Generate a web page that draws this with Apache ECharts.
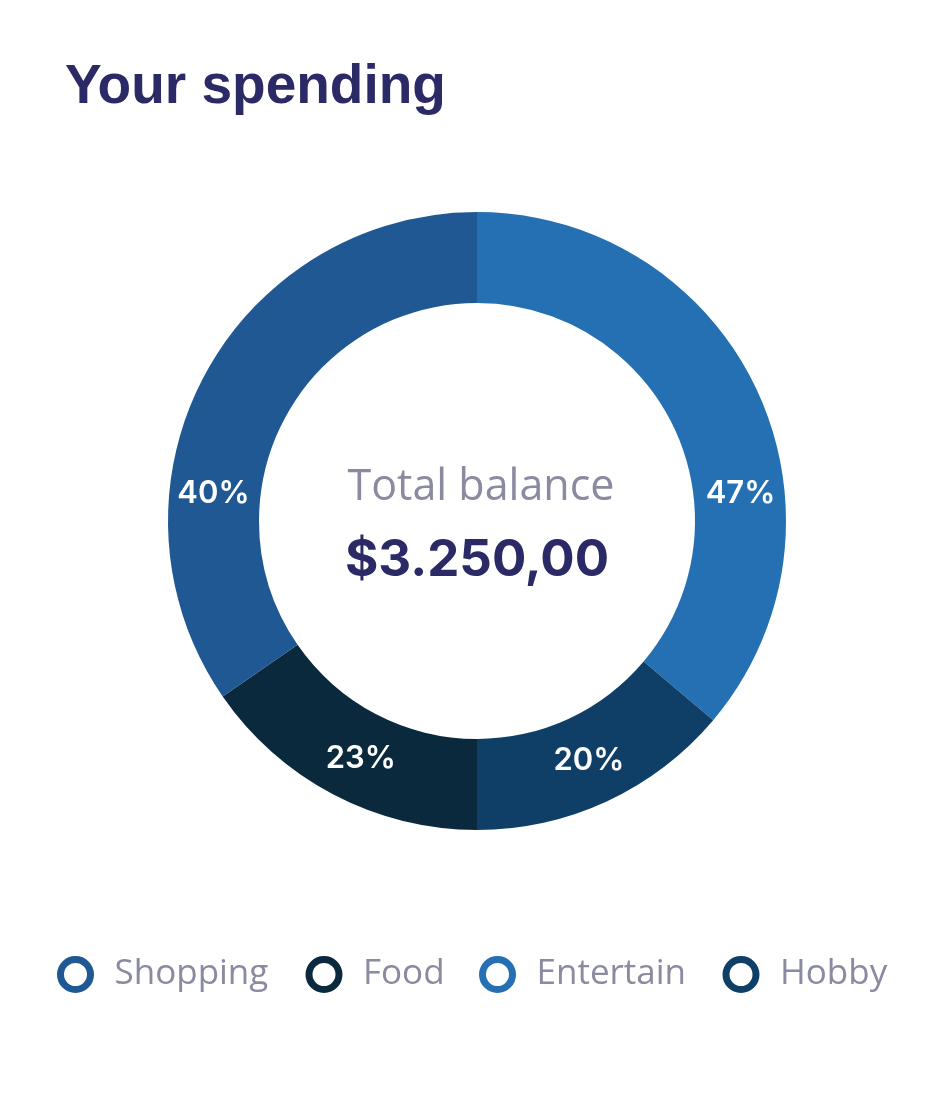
<!DOCTYPE html>
<html>
<head>
<meta charset="utf-8">
<title>Your spending</title>
<script src="https://cdn.jsdelivr.net/npm/echarts@6/dist/echarts.min.js"></script>
<style>
  html, body { margin: 0; padding: 0; background: #fff; }
  #main { width: 948px; height: 1116px; }
</style>
</head>
<body>
<div id="main"></div>
<script>
	// ring slices, clockwise from 12 o'clock
	var categories = ['Entertainment', 'Hobby', 'Food', 'Shopping'];
	var values = [47, 18, 20, 45];                  // slice sizes as they sit on the ring
	var shareLabels = ['47%', '20%', '23%', '40%']; // text printed on each slice
	var labelAngles = [84, 155, 206, 276];          // where each label sits, deg clockwise from top
	var legendOrder = ['Shopping', 'Food', 'Entertainment', 'Hobby'];

	var totalLabel = 'Total balance';
	var totalValue = '$3.250,00';

	var colors = {
		Entertainment: '#2470b3',
		Hobby: '#0f3e67',
		Food: '#0b293c',
		Shopping: '#1f5892'
	};
	var legendBox = [161, 86, 156, 111]; // fixed text box per legend entry
	var legendMaxChars = 9;              // long names get cut off

	var cx = 477, cy = 521, r0 = 218, r1 = 309;
	var navy = '#2b2a67', grey = '#8a8aa0';

	var chart = echarts.init(document.getElementById('main'));

	var option = {
		animation: false,
		backgroundColor: '#fff',
		title: {
			text: 'Your spending',
			left: 65,
			top: 60,
			padding: 0,
			textStyle: {
				fontFamily: 'Liberation Sans',
				fontWeight: 'bold',
				fontSize: 55,
				color: navy
			}
		},
		legend: {
			left: 57,
			top: 952,
			padding: 0,
			icon: 'circle',
			itemWidth: 30,
			itemHeight: 30,
			itemGap: 30,
			selectedMode: false,
			formatter: function (name) {
				return name.length > legendMaxChars ? name.slice(0, legendMaxChars) : name;
			},
			textStyle: {
				fontFamily: 'Open Sans',
				fontSize: 35,
				color: grey,
				backgroundColor: 'rgba(255,255,255,0)',
				padding: [10, 0, 0, 19]
			},
			data: legendOrder.map(function (name, i) {
				return {
					name: name,
					itemStyle: { color: '#fff', borderColor: colors[name], borderWidth: 7 },
					textStyle: { width: legendBox[i] }
				};
			})
		},
		graphic: [
			{
				type: 'text',
				x: 481,
				y: 488,
				style: {
					text: totalLabel,
					fill: grey,
					font: '400 43px "Open Sans"',
					align: 'center',
					verticalAlign: 'middle'
				}
			},
			{
				type: 'text',
				x: 477,
				y: 561,
				style: {
					text: totalValue,
					fill: navy,
					font: 'bold 51px Inter',
					align: 'center',
					verticalAlign: 'middle'
				}
			}
		],
		series: [
			{
				type: 'pie',
				center: [cx, cy],
				radius: [r0, r1],
				startAngle: 90,
				clockwise: true,
				avoidLabelOverlap: false,
				emphasis: { disabled: true },
				itemStyle: { borderWidth: 0 },
				label: {
					show: true,
					position: 'inside',
					formatter: function (p) { return shareLabels[p.dataIndex]; },
					color: '#fff',
					fontFamily: 'Inter',
					fontWeight: 600,
					fontSize: 31
				},
				labelLine: { show: false },
				labelLayout: function (p) {
					var a = labelAngles[p.dataIndex] * Math.PI / 180;
					var rm = 265;
					return {
						x: cx + rm * Math.sin(a),
						y: cy - rm * Math.cos(a),
						align: 'center',
						verticalAlign: 'middle'
					};
				},
				data: categories.map(function (name, i) {
					return { name: name, value: values[i], itemStyle: { color: colors[name] } };
				})
			}
		]
	};

	chart.setOption(option);
</script>
</body>
</html>
